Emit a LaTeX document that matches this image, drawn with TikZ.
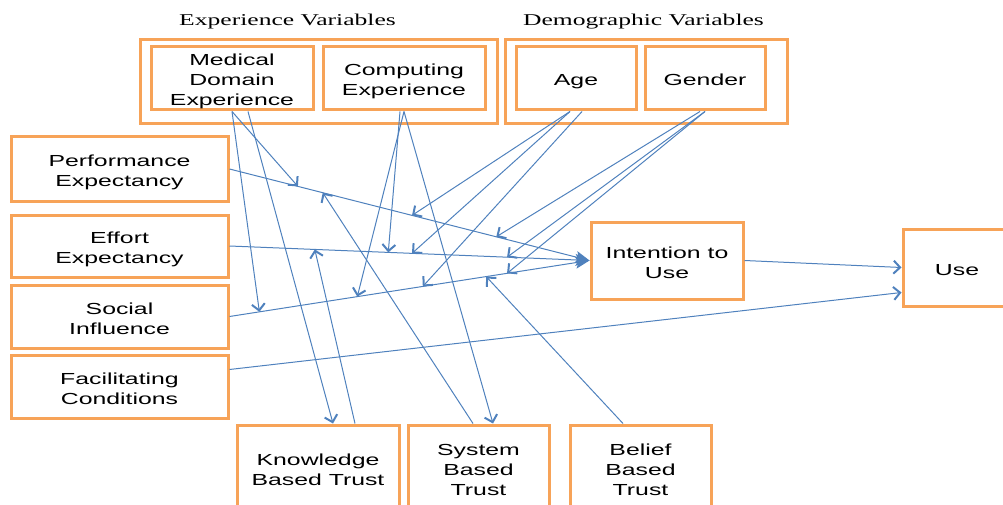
\documentclass[tikz,border=0pt]{standalone}
\usepackage{fontspec}
\setmainfont{Liberation Sans}
\newfontfamily\titlefont{Liberation Serif}
\usepackage{graphicx}
\usetikzlibrary{arrows.meta,calc}
\definecolor{boxorange}{RGB}{247,163,88}
\definecolor{linkblue}{RGB}{79,129,189}
\newcommand\wt[1]{\raisebox{-3.5pt}[\height][\depth]{\scalebox{1.55}[1]{\fontsize{16}{20}\selectfont\begin{tabular}{@{}c@{}}#1\end{tabular}}}}
\newcommand\ttl[1]{\scalebox{1.55}[1]{\titlefont\fontsize{16.5}{20}\selectfont #1}}
\begin{document}
\begin{tikzpicture}[x=1pt,y=-1pt,
  box/.style={draw=boxorange, line width=3pt, fill=white, inner sep=0pt},
  link/.style={draw=linkblue, line width=1pt, -{Straight Barb[length=6.5pt,width=13pt,line width=2pt]}},
  mainlink/.style={draw=linkblue, line width=1pt, -{Stealth[length=14pt,width=12pt,inset=3pt]}},
  title/.style={anchor=base, inner sep=0pt}
]
\useasboundingbox (0,0) rectangle (1003,505);
\clip (0,0) rectangle (1003,505);

% titles
\node[title] (t1) at (287.5,26) {\ttl{Experience Variables}};
\node[title] (t2) at (643.5,26) {\ttl{Demographic Variables}};

% group boxes
\node[box, minimum width=357pt, minimum height=84pt] (expgrp) at (318.5,82) {};
\node[box, minimum width=282pt, minimum height=84pt] (demgrp) at (646,82) {};

% top boxes
\node[box, minimum width=162pt, minimum height=63pt] (mde) at (232,78.5) {\wt{Medical\\Domain\\Experience}};
\node[box, minimum width=162pt, minimum height=63pt] (cexp) at (404,78.5) {\wt{Computing\\Experience}};
\node[box, minimum width=120pt, minimum height=63pt] (age) at (576,78.5) {\wt{Age}};
\node[box, minimum width=120pt, minimum height=63pt] (gender) at (705,78.5) {\wt{Gender}};

% left boxes
\node[box, minimum width=217pt, minimum height=64pt] (perf) at (119.5,169) {\wt{Performance\\Expectancy}};
\node[box, minimum width=217pt, minimum height=62pt] (eff) at (119.5,246) {\wt{Effort\\Expectancy}};
\node[box, minimum width=217pt, minimum height=63pt] (soc) at (119.5,316.5) {\wt{Social\\Influence}};
\node[box, minimum width=217pt, minimum height=63pt] (fac) at (119.5,386.5) {\wt{Facilitating\\Conditions}};

% right boxes
\node[box, minimum width=152pt, minimum height=77pt] (int) at (667,260.5) {\wt{Intention to\\Use}};
\node[box, minimum width=108pt, minimum height=77pt] (use) at (957,267.5) {\wt{Use}};

% bottom boxes
\node[box, minimum width=162pt, minimum height=86pt] (kbt) at (318,468) {\wt{Knowledge\\Based Trust}};
\node[box, minimum width=141pt, minimum height=86pt] (sbt) at (478.5,468) {\wt{System\\Based\\Trust}};
\node[box, minimum width=141pt, minimum height=86pt] (bbt) at (640.5,468) {\wt{Belief\\Based\\Trust}};

% main connectors
\draw[mainlink] (perf.east) -- (int.west);
\draw[mainlink] (eff.east) -- (int.west);
\draw[mainlink] (soc.east) -- (int.west);
\draw[link] (int.east) -- (use.west);
\draw[link] ([yshift=17pt]fac.east) -- ([yshift=-25pt]use.west);

% points on the main connectors
\coordinate (pA) at ($(perf.east)!0.19!(int.west)$);
\coordinate (pB) at ($(perf.east)!0.259!(int.west)$);
\coordinate (pC) at ($(perf.east)!0.507!(int.west)$);
\coordinate (pD) at ($(perf.east)!0.741!(int.west)$);
\coordinate (eA) at ($(eff.east)!0.237!(int.west)$);
\coordinate (eB) at ($(eff.east)!0.441!(int.west)$);
\coordinate (eC) at ($(eff.east)!0.507!(int.west)$);
\coordinate (eD) at ($(eff.east)!0.771!(int.west)$);
\coordinate (sA) at ($(soc.east)!0.083!(int.west)$);
\coordinate (sB) at ($(soc.east)!0.355!(int.west)$);
\coordinate (sC) at ($(soc.east)!0.537!(int.west)$);
\coordinate (sD) at ($(soc.east)!0.713!(int.west)$);
\coordinate (sE) at ($(soc.east)!0.771!(int.west)$);

% moderator connectors
\draw[link] (mde.south) -- (pA);
\draw[link] (mde.south) -- (sA);
\draw[link] ([xshift=16pt]mde.south) -- ([xshift=15pt]kbt.north);
\draw[link] ([xshift=37pt]kbt.north) -- (eA);
\draw[link] ([xshift=-4pt]cexp.south) -- (eB);
\draw[link] (cexp.south) -- (sB);
\draw[link] (cexp.south) -- ([xshift=14.5pt]sbt.north);
\draw[link] ([xshift=-5.5pt]sbt.north) -- (pB);
\draw[link] ([xshift=-17.5pt]bbt.north) -- (sD);
\draw[link] ([xshift=-6pt]age.south) -- (pC);
\draw[link] ([xshift=-6pt]age.south) -- (eC);
\draw[link] ([xshift=6pt]age.south) -- (sC);
\draw[link] ([xshift=-5pt]gender.south) -- (pD);
\draw[link] (gender.south) -- (eD);
\draw[link] (gender.south) -- (sE);
\end{tikzpicture}
\end{document}
